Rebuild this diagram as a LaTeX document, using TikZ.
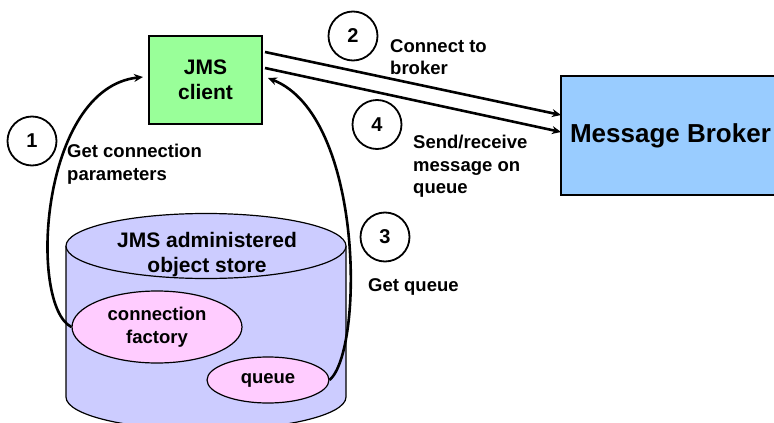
\documentclass[tikz,border=0pt]{standalone}
\usepackage{fontspec}
\setmainfont{Liberation Sans}
\usetikzlibrary{arrows.meta,shapes.geometric}
\definecolor{clientgreen}{HTML}{99FF99}
\definecolor{brokerblue}{HTML}{99CCFF}
\definecolor{storefill}{HTML}{CCCCFF}
\definecolor{objpink}{HTML}{FFCCFF}
\begin{document}
\begin{tikzpicture}[x=1pt,y=-1pt,
  lbl/.style={font=\fontsize{18.5}{22.5}\selectfont\bfseries, align=left, inner sep=0pt, anchor=north west},
  num/.style={circle, draw, line width=1.8pt, minimum size=49pt, inner sep=0pt, font=\fontsize{20}{22}\selectfont\bfseries},
  arr/.style={line width=2.6pt, -{Stealth[length=9pt,width=8pt]}},
  boxstyle/.style={draw, line width=1.3pt, inner sep=0pt, align=center},
  objstyle/.style={ellipse, draw, line width=1.2pt, fill=objpink, inner sep=0pt, align=center, font=\fontsize{18.5}{22.5}\selectfont\bfseries}]
\useasboundingbox (0,0) rectangle (774,423);
% cylinder (object store)
\fill[storefill] (66,246) -- (66,397) arc[start angle=180, end angle=0, x radius=140, y radius=33] -- (346,246) -- cycle;
\draw[line width=1.2pt] (66,246) -- (66,397) arc[start angle=180, end angle=0, x radius=140, y radius=33] -- (346,246);
\draw[line width=1.2pt, fill=storefill] (206,246) ellipse [x radius=140, y radius=32.5];
\node[font=\fontsize{21}{25}\selectfont\bfseries, align=center, inner sep=0pt, anchor=north] (store) at (207,232) {JMS administered\\object store};
\node[objstyle, minimum width=170pt, minimum height=72pt] (factory) at (157,327) {connection\\factory};
\node[objstyle, minimum width=122pt, minimum height=46pt] (queue) at (268,380) {queue};
% boxes
\node[boxstyle, fill=clientgreen, minimum width=113pt, minimum height=88pt, font=\fontsize{21}{25}\selectfont\bfseries] (client) at (205.5,80) {JMS\\client};
\node[boxstyle, fill=brokerblue, minimum width=219pt, minimum height=119pt, font=\fontsize{26}{30}\selectfont\bfseries] (broker) at (670.5,135.5) {Message Broker};
% numbered circles
\node[num] (c1) at (32,141) {1};
\node[num] (c2) at (353,36) {2};
\node[num] (c3) at (385,237) {3};
\node[num] (c4) at (377,124.5) {4};
% labels
\node[lbl] (l1) at (67,144) {Get connection\\parameters};
\node[lbl] (l2) at (390,39) {Connect to\\broker};
\node[lbl] (l3) at (368,278) {Get queue};
\node[lbl] (l4) at (413,135) {Send/receive\\message on\\queue};
% connector end points
\coordinate (t1) at (143,77);
\coordinate (t3) at (268,78);
\coordinate (s2) at (265,52);
\coordinate (s4) at (265,68);
\coordinate (b2) at (561,115);
\coordinate (b4) at (561,132);
% connectors
\draw[arr] (factory.west) .. controls (28,305) and (40,88) .. (t1);
\draw[arr] (queue.east) .. controls (364,350) and (364,116) .. (t3);
\draw[arr] (s2) -- (b2);
\draw[arr] (s4) -- (b4);
\end{tikzpicture}
\end{document}
